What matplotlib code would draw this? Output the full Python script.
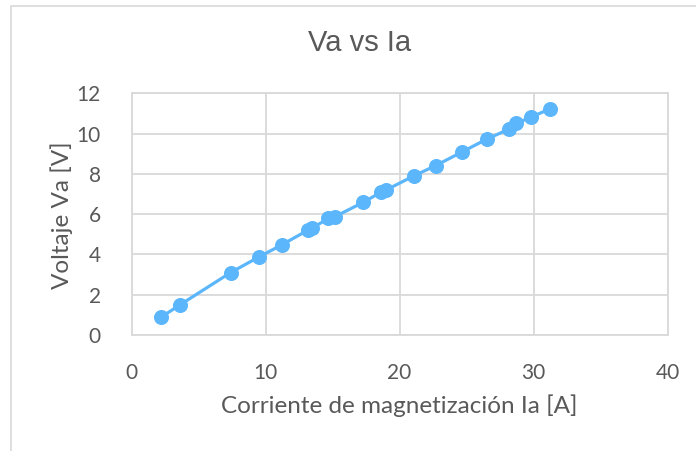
import matplotlib
matplotlib.use("Agg")
import matplotlib.pyplot as plt
from matplotlib.patches import Rectangle

# Magnetising current (A) and armature voltage (V)
corriente_ia = [2.2, 3.6, 7.4, 9.55, 11.2, 13.15, 13.45, 14.7, 15.2, 17.3,
                18.6, 19.0, 21.1, 22.7, 24.7, 26.5, 28.2, 28.7, 29.8, 31.2]
voltaje_va = [0.88, 1.49, 3.10, 3.89, 4.47, 5.20, 5.30, 5.79, 5.88, 6.59,
              7.08, 7.20, 7.91, 8.41, 9.10, 9.72, 10.23, 10.51, 10.81, 11.22]

x_ticks = [0, 10, 20, 30, 40]
y_ticks = [0, 2, 4, 6, 8, 10, 12]

titulo = "Va vs Ia"
etiqueta_x = "Corriente de magnetización Ia [A]"
etiqueta_y = "Voltaje Va [V]"

color_serie = "#5CB6FC"
color_grid = "#D9D9D9"
color_texto = "#595959"
fuente = ["Lato", "DejaVu Sans"]

W, H = 696, 451
fig = plt.figure(figsize=(W / 100, H / 100), dpi=100)
fig.patch.set_facecolor("white")

# chart frame
fig.patches.append(Rectangle((11 / W, -0.1), 1.2, 1.1 - 6 / H,
                             transform=fig.transFigure, fill=False,
                             edgecolor=color_grid, linewidth=1.2))

left, right, top, bottom = 131.5, 667.5, 93.3, 335.0
ax = fig.add_axes([left / W, 1 - bottom / H, (right - left) / W, (bottom - top) / H])

ax.plot(corriente_ia, voltaje_va, color=color_serie, linewidth=2.3,
        marker="o", markersize=9.8, markerfacecolor=color_serie,
        markeredgecolor=color_serie, zorder=3, clip_on=False)

ax.set_xlim(0, 40)
ax.set_ylim(0, 12)
ax.set_xticks(x_ticks)
ax.set_yticks(y_ticks)
ax.grid(True, color=color_grid, linewidth=1.3)
ax.set_axisbelow(True)
for s in ax.spines.values():
    s.set_color(color_grid)
    s.set_linewidth(1.3)
ax.tick_params(axis="y", length=0, pad=22, labelsize=15, labelcolor=color_texto)
ax.tick_params(axis="x", length=0, pad=20, labelsize=15, labelcolor=color_texto)
for lab in ax.get_xticklabels() + ax.get_yticklabels():
    lab.set_family(fuente)

fig.text(360 / W, 1 - 43 / H, titulo, ha="center", va="center",
         fontsize=21, color=color_texto, family=["Liberation Sans", "DejaVu Sans"])
fig.text(399 / W, 1 - 406 / H, etiqueta_x, ha="center", va="center",
         fontsize=17.5, color=color_texto, family=fuente)
fig.text(62 / W, 1 - 215 / H, etiqueta_y, ha="center", va="center",
         rotation=90, fontsize=17.5, color=color_texto, family=fuente)

fig.savefig("out.png", dpi=100)
